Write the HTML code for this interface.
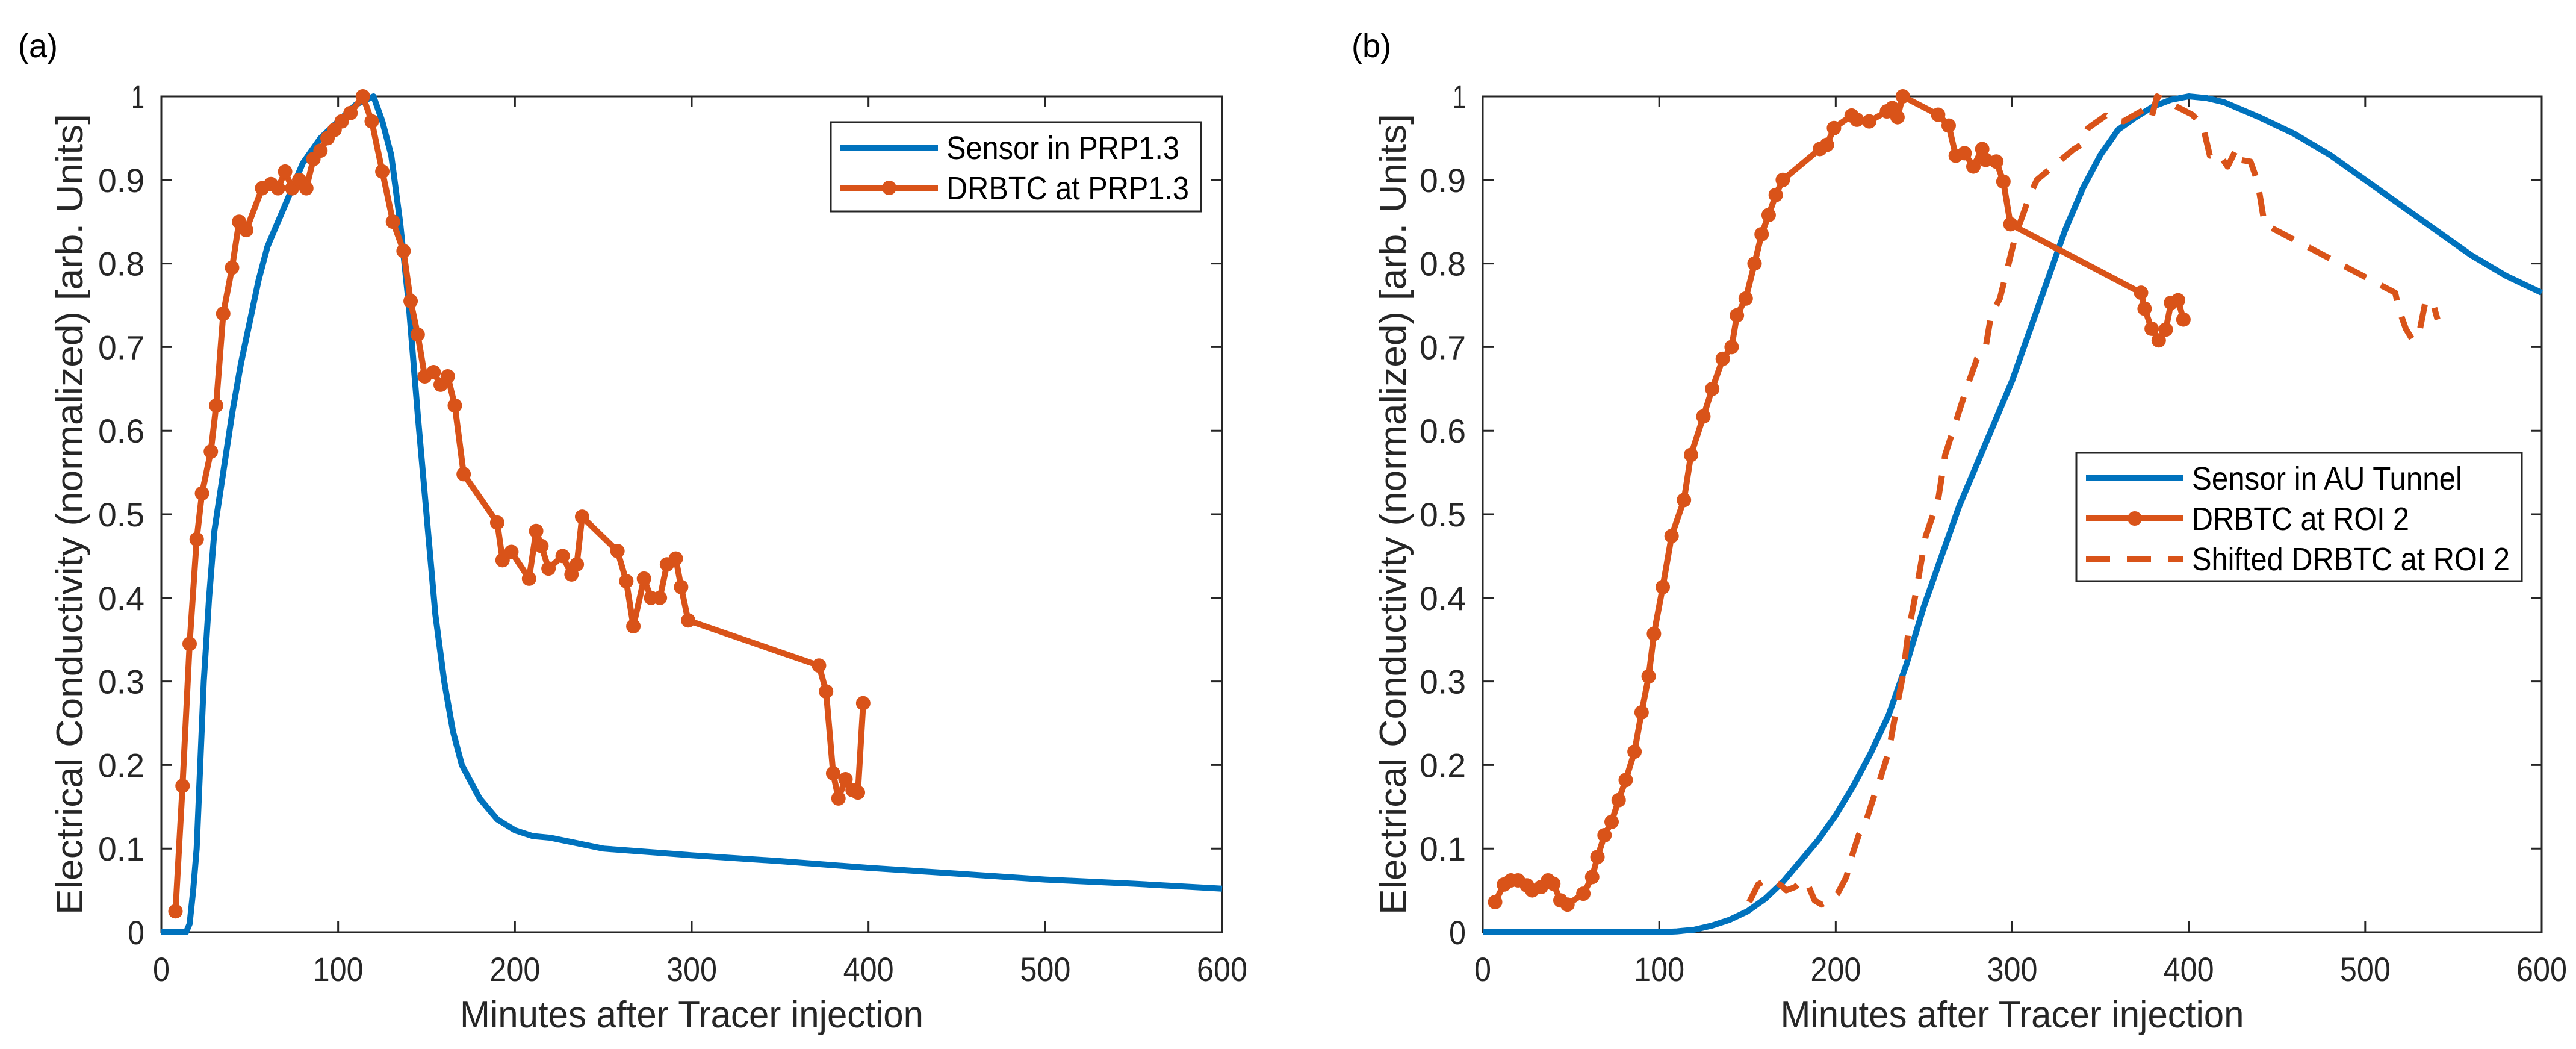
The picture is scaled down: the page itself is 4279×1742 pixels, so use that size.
<!DOCTYPE html>
<html><head><meta charset="utf-8">
<style>
html,body{margin:0;padding:0;background:#fff;}
svg{display:block;font-family:"Liberation Sans",sans-serif;}
</style></head>
<body>
<svg id="fig" width="4279" height="1742" viewBox="0 0 4279 1742" xmlns="http://www.w3.org/2000/svg">
<rect width="4279" height="1742" fill="#fff"/>
</svg>
<script>
// ---- Panel (a) data ----
const aSensorX = [0,14,16,18,20,22,24,27,30,35,40,45,50,55,60,70,80,90,100,110,120,125,130,135,140,145,150,155,160,165,170,180,190,200,210,220,250,300,350,400,450,500,550,600];
const aSensorY = [0,0,0.01,0.05,0.1,0.2,0.3,0.4,0.48,0.55,0.62,0.68,0.73,0.78,0.82,0.87,0.92,0.95,0.97,0.99,1.0,0.97,0.93,0.85,0.75,0.62,0.5,0.38,0.3,0.24,0.2,0.16,0.135,0.122,0.115,0.113,0.1,0.092,0.085,0.077,0.07,0.063,0.058,0.052];
const aDrbX = [8,12,16,20,23,28,31,35,40,44,48,57,62,66,70,74,78,82,86,90,94,98,102,107,114,119,125,131,137,141,145,149,154,158,162,166,171,190,193,198,208,212,215,219,227,232,235,238,258,263,267,273,277,282,286,291,294,298,372,376,380,383,387,391,394,397];
const aDrbY = [0.025,0.175,0.345,0.47,0.525,0.575,0.63,0.74,0.795,0.85,0.84,0.89,0.895,0.89,0.91,0.89,0.9,0.89,0.925,0.935,0.95,0.96,0.97,0.98,1.0,0.97,0.91,0.85,0.815,0.755,0.715,0.665,0.67,0.655,0.665,0.63,0.548,0.49,0.445,0.455,0.423,0.48,0.462,0.435,0.45,0.428,0.44,0.497,0.456,0.42,0.366,0.423,0.4,0.4,0.44,0.447,0.413,0.373,0.319,0.288,0.19,0.16,0.183,0.17,0.167,0.274];
// ---- Panel (b) data ----
const bSensorX = [0,100,110,120,130,140,150,160,170,180,190,200,210,220,230,240,250,260,270,280,290,300,310,320,330,340,350,360,370,380,390,400,410,420,440,460,480,500,520,540,560,580,600];
const bSensorY = [0,0,0.001,0.003,0.008,0.015,0.025,0.04,0.06,0.085,0.11,0.14,0.175,0.215,0.26,0.32,0.39,0.45,0.51,0.56,0.61,0.66,0.72,0.78,0.84,0.89,0.93,0.96,0.975,0.988,0.996,1.0,0.998,0.993,0.975,0.955,0.93,0.9,0.87,0.84,0.81,0.785,0.765];
const bDrbX = [7,12,16,20,25,28,33,37,40,44,48,57,62,65,69,73,77,81,86,90,94,97,102,107,114,118,125,130,136,141,144,149,154,158,162,166,170,191,195,199,209,212,219,229,232,235,238,258,264,268,273,278,283,285,291,295,299,373,375,379,383,387,390,394,397];
const bDrbY = [0.036,0.057,0.062,0.062,0.056,0.05,0.054,0.062,0.058,0.038,0.033,0.046,0.066,0.09,0.116,0.132,0.158,0.182,0.216,0.263,0.306,0.357,0.413,0.474,0.517,0.571,0.617,0.65,0.686,0.7,0.738,0.758,0.8,0.835,0.858,0.882,0.9,0.937,0.942,0.962,0.977,0.972,0.97,0.982,0.986,0.975,1.0,0.978,0.965,0.929,0.932,0.916,0.937,0.924,0.922,0.898,0.847,0.765,0.746,0.722,0.708,0.721,0.753,0.756,0.733];
const bShift = 144;
const xTicks = [0,100,200,300,400,500,600];
const yTicks = [0,0.1,0.2,0.3,0.4,0.5,0.6,0.7,0.8,0.9,1];
const yTickLabels = ["0","0.1","0.2","0.3","0.4","0.5","0.6","0.7","0.8","0.9","1"];

const NS = "http://www.w3.org/2000/svg";
const svg = document.getElementById('fig');
const BLUE = "#0072BD", ORANGE = "#D95319", AX = "#262626";
function mk(tag, attrs, parent){
  const e = document.createElementNS(NS, tag);
  for (const k in attrs) e.setAttribute(k, attrs[k]);
  (parent||svg).appendChild(e);
  return e;
}
function panel(L, R, T, B, tag, tagX, ylabX){
  const sx = v => L + (v/600)*(R-L);
  const sy = v => B - v*(B-T);
  const g = mk('g', {});
  
  
  const lab = mk('text', {x: tagX, y: 95, 'font-size': 56, fill: '#000', textLength: 66, lengthAdjust: 'spacingAndGlyphs'}, g);
  lab.textContent = '(' + tag + ')';
  
  
  const box = mk('rect', {x: L, y: T, width: R-L, height: B-T, fill: 'none', stroke: AX, 'stroke-width': 3}, g);
  
  
  xTicks.forEach(v => {
    const x = sx(v);
    mk('line', {x1: x, x2: x, y1: B, y2: B-18, stroke: AX, 'stroke-width': 3}, g);
    mk('line', {x1: x, x2: x, y1: T, y2: T+18, stroke: AX, 'stroke-width': 3}, g);
    const t = mk('text', {x: x, y: 1629, 'font-size': 56, 'text-anchor': 'middle', fill: AX, textLength: (String(v).length*28), lengthAdjust: 'spacingAndGlyphs'}, g);
    t.textContent = v;
    
    
  });
  yTicks.forEach((v, i) => {
    const y = sy(v);
    mk('line', {x1: L, x2: L+18, y1: y, y2: y, stroke: AX, 'stroke-width': 3}, g);
    mk('line', {x1: R, x2: R-18, y1: y, y2: y, stroke: AX, 'stroke-width': 3}, g);
    const lbl = yTickLabels[i];
    const w = lbl.length === 1 ? (lbl === '1' ? 22 : 28) : 77;
    const t = mk('text', {x: L-28, y: y+20, 'font-size': 56, 'text-anchor': 'end', fill: AX, textLength: w, lengthAdjust: 'spacingAndGlyphs'}, g);
    t.textContent = lbl;
    
    
  });
  const xl = mk('text', {x: (L+R)/2, y: 1706, 'font-size': 62, 'text-anchor': 'middle', fill: AX, textLength: 770, lengthAdjust: 'spacingAndGlyphs'}, g);
  xl.textContent = 'Minutes after Tracer injection';
  
  
  const yl = mk('text', {x: 0, y: 0, 'font-size': 62, 'text-anchor': 'middle', fill: AX, transform: `translate(${ylabX},${(T+B)/2}) rotate(-90)`, textLength: 1330, lengthAdjust: 'spacingAndGlyphs'}, g);
  yl.textContent = 'Electrical Conductivity (normalized) [arb. Units]';
  
  
  return {g, sx, sy};
}
function line(p, xs, ys, color, dash, name, shift){
  const pts = xs.map((x,i) => p.sx(x + (shift||0)).toFixed(1) + ',' + p.sy(ys[i]).toFixed(1)).join(' ');
  const e = mk('polyline', {points: pts, fill: 'none', stroke: color, 'stroke-width': 10, 'stroke-linejoin': 'round', 'stroke-dasharray': dash || 'none'}, p.g);
  
  
}
function markers(p, xs, ys, name){
  xs.forEach((x,i) => {
    const c = mk('circle', {cx: p.sx(x), cy: p.sy(ys[i]), r: 12, fill: ORANGE}, p.g);
    
    
  });
}
function legend(p, x, y, w, h, entries){
  const lg = mk('g', {}, p.g);
  
  
  mk('rect', {x, y, width: w, height: h, fill: '#fff', stroke: AX, 'stroke-width': 3}, lg);
  entries.forEach((en, i) => {
    const cy = y + 42 + i*67;
    mk('line', {x1: x+16, x2: x+178, y1: cy, y2: cy, stroke: en.c, 'stroke-width': 10, 'stroke-dasharray': en.dash || 'none'}, lg);
    if (en.m) mk('circle', {cx: x+97, cy, r: 12, fill: en.c}, lg);
    const t = mk('text', {x: x+192, y: cy+19, 'font-size': 54, fill: '#000', textLength: en.w, lengthAdjust: 'spacingAndGlyphs'}, lg);
    t.textContent = en.t;
    
    
  });
}

const pa = panel(268, 2030, 160, 1548, 'a', 30, 137);
line(pa, aSensorX, aSensorY, BLUE, null, 'sensor-prp13-line');
line(pa, aDrbX, aDrbY, ORANGE, null, 'drbtc-prp13-line');
markers(pa, aDrbX, aDrbY, 'drbtc-prp13-point');
legend(pa, 1380, 203, 615, 148, [
  {t: 'Sensor in PRP1.3', c: BLUE, w: 387},
  {t: 'DRBTC at PRP1.3', c: ORANGE, m: true, w: 403}
]);

const pb = panel(2463, 4222, 160, 1548, 'b', 2245, 2335);
line(pb, bSensorX, bSensorY, BLUE, null, 'sensor-au-tunnel-line');
line(pb, bDrbX, bDrbY, ORANGE, '40 28', 'shifted-drbtc-roi2-line', bShift);
line(pb, bDrbX, bDrbY, ORANGE, null, 'drbtc-roi2-line');
markers(pb, bDrbX, bDrbY, 'drbtc-roi2-point');
legend(pb, 3449, 752, 740, 213, [
  {t: 'Sensor in AU Tunnel', c: BLUE, w: 449},
  {t: 'DRBTC at ROI 2', c: ORANGE, m: true, w: 361},
  {t: 'Shifted DRBTC at ROI 2', c: ORANGE, dash: '40 28', w: 528}
]);
</script>
</body></html>
